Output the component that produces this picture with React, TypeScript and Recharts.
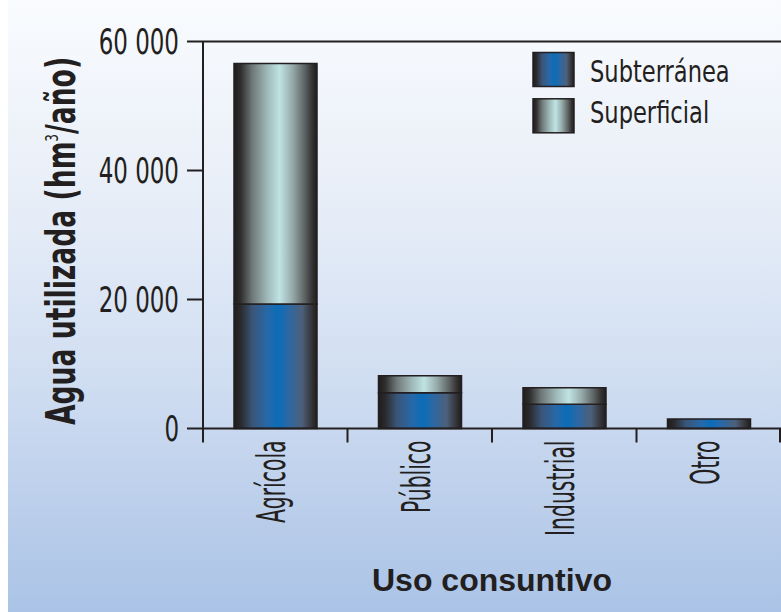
import React from 'react';
import { BarChart, Bar, XAxis, YAxis, ReferenceLine, Legend, Label } from 'recharts';

const categories = ['Agrícola', 'Público', 'Industrial', 'Otro'];
const subterranea = [19300, 5550, 3750, 1470];
const superficial = [37300, 2640, 2580, 0];
const yTicks = [0, 20000, 40000, 60000];
const seriesNames = ['Subterránea', 'Superficial'];
const xTitle = 'Uso consuntivo';

const data = categories.map((c, i) => ({ name: c, sub: subterranea[i], sup: superficial[i] }));

const W = 773;
const H = 612;
const YW = 195;
const XH = 183.5;
const TOP = 41.5;
const PLOT_W = W - YW;
const BAND = PLOT_W / categories.length;
const INK = '#231f20';
const NARROW = "'DejaVu Sans Condensed', 'DejaVu Sans', sans-serif";
const WIDE = "'Liberation Sans', Arial, sans-serif";

const fmt = (v: number) => String(v).replace(/\B(?=(\d{3})+(?!\d))/g, ' ');

const XTick = (props: any) => {
  const { x, y, payload, index } = props;
  const left = x - BAND / 2;
  const right = x + BAND / 2;
  return (
    <g>
      <line x1={left} x2={left} y1={y} y2={y + 14} stroke={INK} strokeWidth={2} />
      {index === categories.length - 1 && (
        <line x1={right - 1} x2={right - 1} y1={y} y2={y + 14} stroke={INK} strokeWidth={2} />
      )}
      <text
        transform={`translate(${x},${y + 12}) rotate(-90) scale(0.58,1)`}
        textAnchor="end"
        dy={10}
        fontSize={39}
        fill={INK}
        fontFamily={NARROW}
      >
        {payload.value}
      </text>
    </g>
  );
};

const YTick = (props: any) => {
  const { x, y, payload } = props;
  return (
    <text
      transform={`translate(${x},${y}) scale(0.73,1)`}
      textAnchor="end"
      dy="0.36em"
      fontSize={35}
      fill={INK}
      fontFamily={NARROW}
    >
      {fmt(payload.value)}
    </text>
  );
};

const YTitle = (props: any) => {
  const vb = props.viewBox;
  const cx = vb.x + 67;
  const cy = vb.y + vb.height / 2 + 6;
  return (
    <text
      transform={`translate(${cx},${cy}) rotate(-90) scale(0.74,1)`}
      textAnchor="middle"
      fontSize={40}
      fontWeight="bold"
      fill={INK}
      fontFamily={NARROW}
    >
      <tspan>Agua utilizada (hm</tspan>
      <tspan dy={-17} fontSize={18} fontWeight="normal">3</tspan>
      <tspan dy={17}>/año)</tspan>
    </text>
  );
};

const XTitle = (props: any) => {
  const vb = props.viewBox;
  return (
    <text
      x={vb.x + vb.width / 2}
      y={vb.y + 162}
      textAnchor="middle"
      fontSize={32}
      fontWeight="bold"
      fill={INK}
      fontFamily={WIDE}
    >
      {xTitle}
    </text>
  );
};

const LegendContent = (props: any) => {
  const payload = props.payload || [];
  return (
    <svg width={250} height={95} style={{ display: 'block', overflow: 'visible' }}>
      {payload.map((p: any, i: number) => (
        <g key={p.value}>
          <rect
            x={1}
            y={1.5 + 46.3 * i}
            width={41}
            height={34}
            fill={`url(#g-${p.dataKey})`}
            stroke={INK}
            strokeWidth={1.5}
          />
          <text
            transform={`translate(58,${30.7 + 41.6 * i}) scale(0.81,1)`}
            fontSize={31}
            fill={INK}
            fontFamily={NARROW}
          >
            {p.value}
          </text>
        </g>
      ))}
    </svg>
  );
};

export default function App() {
  return (
    <div
      style={{
        position: 'absolute',
        left: 8,
        top: 0,
        width: W,
        height: H,
        background: 'linear-gradient(to bottom, #f9fbfe 0%, #e9eff8 30%, #d2dff2 60%, #bccfeb 82%, #aac3e6 100%)',
      }}
    >
      <BarChart
        width={W}
        height={H}
        data={data}
        margin={{ top: TOP, right: 0, bottom: 0, left: 0 }}
      >
        <defs>
          <linearGradient id="g-sub" x1="0" y1="0" x2="1" y2="0">
            <stop offset="0" stopColor="#1f1c1c" />
            <stop offset="0.08" stopColor="#2a292c" />
            <stop offset="0.22" stopColor="#3a5578" />
            <stop offset="0.4" stopColor="#2868a8" />
            <stop offset="0.53" stopColor="#0a6db8" />
            <stop offset="0.65" stopColor="#2a68a6" />
            <stop offset="0.82" stopColor="#4d6079" />
            <stop offset="0.93" stopColor="#35363b" />
            <stop offset="1" stopColor="#1f1c1c" />
          </linearGradient>
          <linearGradient id="g-sup" x1="0" y1="0" x2="1" y2="0">
            <stop offset="0" stopColor="#1f1c1c" />
            <stop offset="0.08" stopColor="#2f2d2d" />
            <stop offset="0.22" stopColor="#6f7878" />
            <stop offset="0.4" stopColor="#9fb8b8" />
            <stop offset="0.55" stopColor="#bfe3e3" />
            <stop offset="0.7" stopColor="#98acac" />
            <stop offset="0.85" stopColor="#5e6464" />
            <stop offset="0.94" stopColor="#353333" />
            <stop offset="1" stopColor="#1f1c1c" />
          </linearGradient>
        </defs>
        <XAxis
          dataKey="name"
          height={XH}
          tickSize={0}
          tickMargin={0}
          tickLine={false}
          axisLine={{ stroke: INK, strokeWidth: 2 }}
          tick={<XTick />}
          interval={0}
        >
          <Label content={<XTitle />} />
        </XAxis>
        <YAxis
          width={YW}
          domain={[0, 60000]}
          ticks={yTicks}
          tickSize={16}
          tickMargin={8}
          tickLine={{ stroke: INK, strokeWidth: 2 }}
          axisLine={{ stroke: INK, strokeWidth: 2 }}
          tick={<YTick />}
          interval={0}
        >
          <Label content={<YTitle />} />
        </YAxis>
        <ReferenceLine y={60000} stroke={INK} strokeWidth={2} />
        <Legend
          layout="vertical"
          align="center"
          verticalAlign="middle"
          content={<LegendContent />}
          wrapperStyle={{ left: 524, top: 51, width: 250, height: 95 }}
        />
        <Bar
          dataKey="sub"
          name={seriesNames[0]}
          stackId="a"
          barSize={83}
          fill="url(#g-sub)"
          stroke={INK}
          strokeWidth={1.5}
          isAnimationActive={false}
        />
        <Bar
          dataKey="sup"
          name={seriesNames[1]}
          stackId="a"
          barSize={83}
          fill="url(#g-sup)"
          stroke={INK}
          strokeWidth={1.5}
          isAnimationActive={false}
        />
      </BarChart>
    </div>
  );
}
